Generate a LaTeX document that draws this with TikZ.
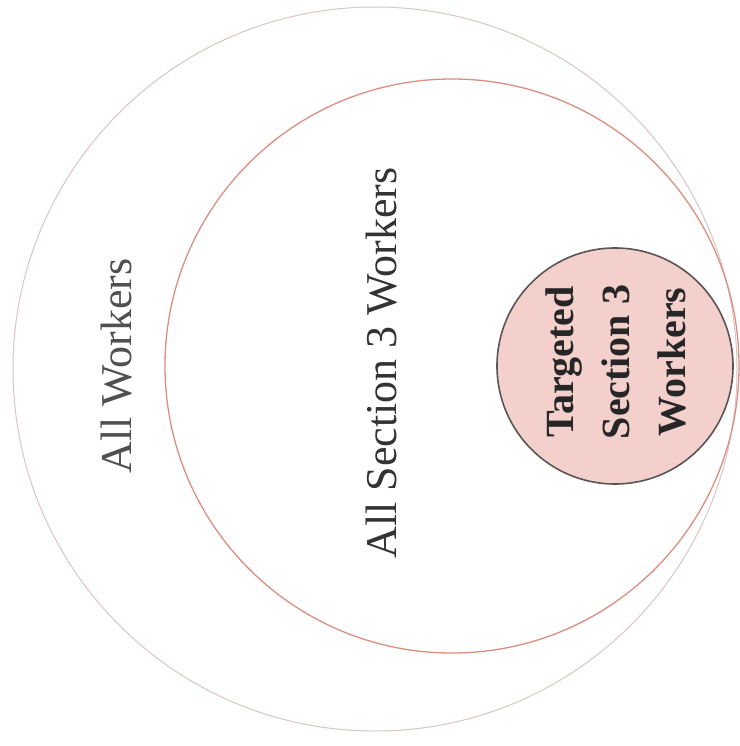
\documentclass[tikz,border=0pt]{standalone}
\usepackage{fontspec}
\setmainfont{Liberation Serif}
\definecolor{outerline}{HTML}{D9C6C6}
\definecolor{midline}{HTML}{DC8E80}
\definecolor{innerline}{HTML}{5A5555}
\definecolor{innerfill}{HTML}{F4D0CC}
\definecolor{txtgray}{HTML}{505050}
\tikzset{
  ring/.style={circle, inner sep=0pt, outer sep=0pt},
  biglabel/.style={rotate=90, font=\fontsize{44}{48}\selectfont, inner sep=0pt},
  smalllabel/.style={rotate=90, font=\fontsize{40}{56}\selectfont\bfseries, align=center, inner sep=0pt, text=black!85}
}
\begin{document}
\begin{tikzpicture}[x=1pt,y=1pt]
\useasboundingbox (0,0) rectangle (739,-746);
\fill[white] (0,0) rectangle (739,-746);
\node[ring, draw=outerline, line width=1pt, minimum size=724pt] (outer) at (375,-369) {};
\node[ring, draw=midline, line width=1.3pt, minimum size=574pt] (mid) at (452,-366) {};
\node[ring, draw=innerline, fill=innerfill, line width=1.6pt, minimum size=236pt] (inner) at (615,-366) {};
\node[biglabel, text=txtgray] (lblall) at (117,-366) {All Workers};
\node[biglabel, text=black!80] (lblsec) at (382,-363) {All Section 3 Workers};
\node[smalllabel] (lbltarget) at (616,-362) {Targeted\\Section 3\\Workers};
\end{tikzpicture}
\end{document}
